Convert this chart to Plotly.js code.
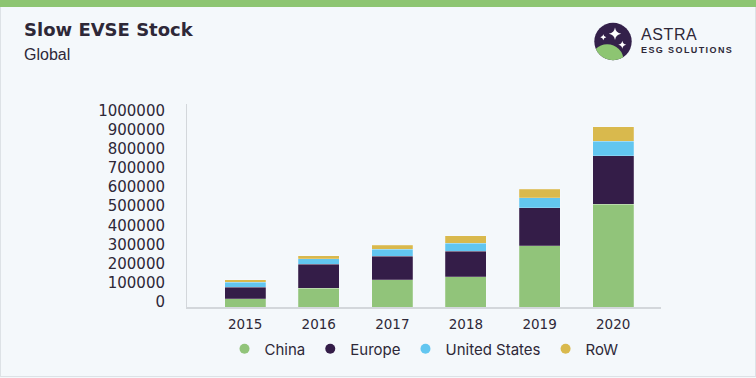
<!DOCTYPE html>
<html>
<head>
<meta charset="utf-8">
<script src="https://cdn.plot.ly/plotly-3.0.1.min.js"></script>
<style>
  html, body { margin: 0; padding: 0; }
  body { width: 756px; height: 378px; overflow: hidden; background: #f4f8fb; position: relative; font-family: "Liberation Sans", Arial, sans-serif; }
  #card { position: absolute; left: 0; top: 0; width: 754px; height: 376px; border: 1px solid #dde2e6; border-top: none; background: #f4f8fb; }
  #topbar { position: absolute; left: 0; top: 0; width: 756px; height: 7px; background: #8dc572; z-index: 3; }
  #chart { position: absolute; left: 0; top: 0; width: 756px; height: 378px; z-index: 1; }
  #title { position: absolute; left: 24px; top: 19px; font-family: "DejaVu Sans", sans-serif; font-weight: 900; font-size: 18px; color: #2e2838; z-index: 2; letter-spacing: 0px; }
  #subtitle { position: absolute; left: 24px; top: 46px; font-family: "Liberation Sans", Arial, sans-serif; font-size: 16px; color: #2e2838; z-index: 2; }
  #logo { position: absolute; left: 590px; top: 18px; z-index: 2; }
  #astra { position: absolute; left: 641px; top: 26px; font-family: "Liberation Sans", Arial, sans-serif; font-size: 16px; color: #2e2838; letter-spacing: 0.6px; z-index: 2; }
  #esg { position: absolute; left: 641px; top: 45px; font-family: "Liberation Sans", Arial, sans-serif; font-weight: bold; font-size: 9px; color: #2e2838; letter-spacing: 1.4px; z-index: 2; }
</style>
</head>
<body>
<div id="card"></div>
<div id="topbar"></div>
<div id="chart"></div>
<div id="title">Slow EVSE Stock</div>
<div id="subtitle">Global</div>
<svg id="logo" width="46" height="46" viewBox="590 18 46 46">
  <defs>
    <clipPath id="lc"><circle cx="613" cy="41.5" r="18.7"/></clipPath>
  </defs>
  <circle cx="613" cy="41.5" r="18.7" fill="#33204a"/>
  <circle cx="607.2" cy="60.6" r="16.4" fill="#8dc572" clip-path="url(#lc)"/>
  <path d="M615 27.5 Q615.8 32.9 621.2 33.7 Q615.8 34.5 615 39.9 Q614.2 34.5 608.8 33.7 Q614.2 32.9 615 27.5 Z" fill="#ffffff"/>
  <path d="M603.3 34.3 Q603.7 36.9 606.3 37.3 Q603.7 37.7 603.3 40.3 Q602.9 37.7 600.3 37.3 Q602.9 36.9 603.3 34.3 Z" fill="#ffffff"/>
  <path d="M622.3 40.7 Q622.8 44.2 626.3 44.7 Q622.8 45.2 622.3 48.7 Q621.8 45.2 618.3 44.7 Q621.8 44.2 622.3 40.7 Z" fill="#ffffff"/>
</svg>
<div id="astra">ASTRA</div>
<div id="esg">ESG SOLUTIONS</div>
<script>
const years = ['2015', '2016', '2017', '2018', '2019', '2020'];
const china = [43000, 99000, 141000, 158000, 319000, 536000];
const europe = [61000, 125000, 125000, 132000, 200000, 253000];
const unitedStates = [24000, 29000, 34000, 42000, 52000, 77000];
const row = [14000, 14000, 23000, 40000, 44000, 74000];
const seriesNames = ['China', 'Europe', 'United States', 'RoW'];
const seriesColors = ['#91c47a', '#341d48', '#62c6f0', '#d9b94d'];
const tickValues = [0, 100000, 200000, 300000, 400000, 500000, 600000, 700000, 800000, 900000, 1000000];

const seriesData = [china, europe, unitedStates, row];
const traces = [];
seriesData.forEach((vals, i) => {
  traces.push({
    type: 'bar', x: years, y: vals, name: seriesNames[i],
    marker: { color: seriesColors[i], line: { color: 'rgba(255,255,255,0.35)', width: 0.6 } },
    showlegend: false, legendgroup: seriesNames[i], hoverinfo: 'skip'
  });
});
seriesData.forEach((vals, i) => {
  traces.push({
    type: 'scatter', mode: 'markers', x: [years[0]], y: [null], name: seriesNames[i],
    marker: { color: seriesColors[i], size: 10, symbol: 'circle' },
    showlegend: true, legendgroup: seriesNames[i], hoverinfo: 'skip'
  });
});

const layout = {
  width: 756, height: 378,
  margin: { l: 187, r: 95, t: 104, b: 71 },
  paper_bgcolor: 'rgba(0,0,0,0)', plot_bgcolor: 'rgba(0,0,0,0)',
  barmode: 'stack', bargap: 0.443,
  font: { family: 'DejaVu Sans, sans-serif', color: '#2e2838', size: 14 },
  xaxis: {
    type: 'category', range: [-0.79, 5.65],
    showgrid: false, zeroline: false, showline: true, linecolor: '#d3d7db', linewidth: 1.5,
    ticks: '', tickfont: { size: 13.5, color: '#2e2838' }, ticklabelstandoff: 4
  },
  yaxis: {
    range: [0, 1059000], tickvals: tickValues, ticktext: tickValues.map(v => String(v)),
    showgrid: false, zeroline: false, showline: true, linecolor: '#d3d7db', linewidth: 1,
    ticks: '', tickfont: { size: 15, color: '#2e2838' }, ticklabelstandoff: 18, ticklabelshift: -5
  },
  legend: {
    orientation: 'h', x: 0.5, xanchor: 'center', y: -0.207, yanchor: 'middle',
    font: { family: 'Inter, sans-serif', size: 15, color: '#2e2838' },
    itemwidth: 30, traceorder: 'normal', bgcolor: 'rgba(0,0,0,0)'
  }
};

Plotly.newPlot('chart', traces, layout, { staticPlot: true, displayModeBar: false });
</script>
</body>
</html>
